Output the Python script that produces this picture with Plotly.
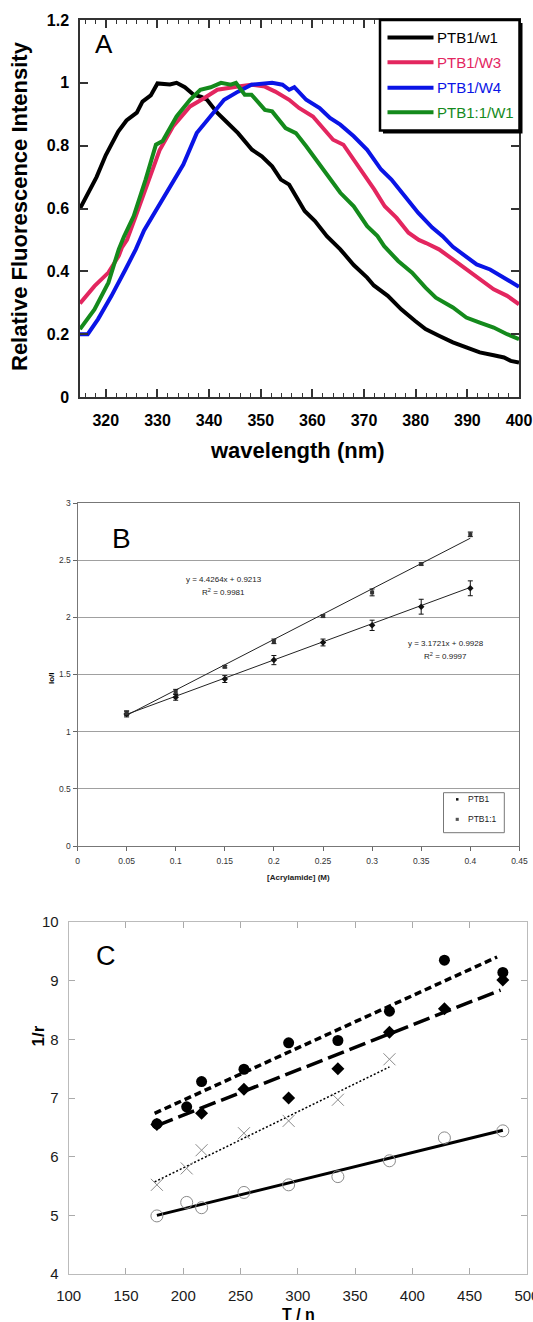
import plotly.graph_objects as go

W, H = 533, 1322
FONT = "Liberation Sans, Arial, sans-serif"

# ---------------- Panel A: emission spectra ----------------
a_w1_x = [315, 316.5, 318.2, 320, 321, 322.4, 324, 325.1, 326, 327.1, 328.7, 330, 331, 332.4, 333.7, 335.3,
          337, 338.5, 339.6, 341.6, 343.3, 345.6, 348.3, 350.2, 352.2, 353.9, 355.5, 356.8, 358.5, 360.5,
          362.8, 365.4, 368, 370.6, 371.9, 374.6, 377.2, 379.9, 381.9, 384.5, 387.2, 389.8, 392.4, 395.1,
          397.1, 398.4, 400]
a_w1_y = [0.60, 0.65, 0.70, 0.77, 0.80, 0.845, 0.88, 0.895, 0.905, 0.94, 0.96, 0.998, 0.998, 0.995, 1.0, 0.986,
          0.962, 0.955, 0.946, 0.904, 0.877, 0.84, 0.787, 0.766, 0.734, 0.692, 0.676, 0.639, 0.592, 0.56,
          0.512, 0.47, 0.42, 0.38, 0.355, 0.322, 0.279, 0.242, 0.216, 0.195, 0.174, 0.158, 0.142, 0.133,
          0.126, 0.115, 0.11]

a_w3_x = [315, 317.8, 320.5, 322.5, 323.1, 324.1, 325.8, 328.4, 330.4, 333, 336.3, 339, 341.6, 345.6, 348.2,
          350.8, 352.8, 355.5, 357.4, 360.1, 362.1, 364, 366, 368, 370, 372, 374, 376.3, 378.6, 380.6,
          382, 384.5, 387.2, 389.8, 392.4, 395.1, 397.7, 400]
a_w3_y = [0.298, 0.353, 0.396, 0.449, 0.475, 0.50, 0.576, 0.692, 0.785, 0.861, 0.925, 0.951, 0.978, 0.988, 0.994,
          0.988, 0.972, 0.946, 0.92, 0.893, 0.856, 0.819, 0.803, 0.756, 0.708, 0.66, 0.607, 0.57, 0.523, 0.50,
          0.49, 0.47, 0.438, 0.406, 0.375, 0.343, 0.322, 0.295]

a_w4_x = [315, 316.5, 318.5, 321.1, 323.8, 325.8, 327.4, 329.1, 332.4, 335, 337.6, 340.3, 342.9, 345.6, 348.2,
          352.2, 354.2, 355.5, 356.5, 358.8, 361.4, 363.4, 365.4, 368, 370.6, 373.3, 375.3, 377.9, 380.5,
          383.2, 385.2, 387.2, 389.1, 391.8, 394.4, 397.1, 398.4, 400]
a_w4_y = [0.20, 0.20, 0.248, 0.322, 0.406, 0.47, 0.53, 0.576, 0.671, 0.74, 0.84, 0.893, 0.946, 0.972, 0.994,
          1.0, 0.994, 0.978, 0.986, 0.946, 0.92, 0.888, 0.867, 0.83, 0.787, 0.724, 0.692, 0.639, 0.586,
          0.539, 0.512, 0.478, 0.454, 0.422, 0.406, 0.38, 0.364, 0.351]

a_11w1_x = [315, 317.8, 320.5, 322.5, 323.5, 325.4, 327.7, 329.7, 331, 333.7, 336.3, 338.3, 340.3, 342.3, 344.2,
            345.2, 346.9, 348.2, 350.8, 352.2, 354.8, 356.8, 358.8, 360.7, 362.7, 365.4, 368, 370.6, 372.6,
            373.9, 376.6, 379.3, 381.9, 383.9, 387.2, 389.8, 392.4, 395.1, 397.7, 400]
a_11w1_y = [0.216, 0.279, 0.364, 0.47, 0.51, 0.576, 0.692, 0.803, 0.815, 0.893, 0.946, 0.978, 0.986, 1.0, 0.994,
            1.0, 0.962, 0.962, 0.914, 0.909, 0.856, 0.84, 0.798, 0.756, 0.708, 0.65, 0.607, 0.544, 0.512,
            0.48, 0.433, 0.396, 0.348, 0.316, 0.285, 0.253, 0.237, 0.221, 0.20, 0.184]

a_names = ["PTB1/w1", "PTB1/W3", "PTB1/W4", "PTB1:1/W1"]
a_colors = ["#000000", "#e3265f", "#0a14e6", "#148a1c"]

# ---------------- Panel B: Stern-Volmer ----------------
b_conc = [0.05, 0.10, 0.15, 0.20, 0.25, 0.30, 0.35, 0.40]
b_ptb1 = [1.155, 1.30, 1.46, 1.626, 1.78, 1.93, 2.093, 2.254]
b_ptb1_err = [0.026, 0.025, 0.03, 0.04, 0.03, 0.045, 0.065, 0.065]
b_ptb11 = [1.16, 1.35, 1.568, 1.79, 2.011, 2.218, 2.466, 2.726]
b_ptb11_err = [0.02, 0.02, 0.01, 0.02, 0.01, 0.03, 0.01, 0.02]
b_fit_slope = [3.1721, 4.4264]
b_fit_intercept = [0.9928, 0.9213]
b_eq_text = ["y = 3.1721x + 0.9928", "y = 4.4264x + 0.9213"]
b_r2_text = ["R<sup>2</sup> = 0.9997", "R<sup>2</sup> = 0.9981"]

# ---------------- Panel C: Perrin plot ----------------
c_fill_x = [177, 203, 216, 253, 292, 335, 380, 428, 479]
c_fill_y = [6.56, 6.85, 7.28, 7.49, 7.94, 7.98, 8.48, 9.35, 9.14]
c_diam_x = [177, 216, 253, 292, 335, 380, 428, 479]
c_diam_y = [6.55, 6.74, 7.15, 7.0, 7.5, 8.12, 8.52, 9.01]
c_cross_x = [177, 203, 216, 253, 292, 335, 380]
c_cross_y = [5.52, 5.80, 6.11, 6.40, 6.61, 6.97, 7.66]
c_open_x = [177, 203, 216, 253, 292, 335, 380, 428, 479]
c_open_y = [4.99, 5.22, 5.13, 5.39, 5.52, 5.66, 5.93, 6.32, 6.44]
# linear fits: slope, intercept, x start, x end
c_fit_slope = [0.00891, 0.00770, 0.00956, 0.00480]
c_fit_intercept = [5.180, 5.167, 3.897, 4.150]
c_fit_xstart = [175, 177, 175, 177]
c_fit_xend = [474, 477, 380, 479]


def PX(x):
    return x / W


def PY(y):
    return 1 - y / H


fig = go.Figure()

# Panel A traces
for xs, ys, col, nm in zip([a_w1_x, a_w3_x, a_w4_x, a_11w1_x], [a_w1_y, a_w3_y, a_w4_y, a_11w1_y], a_colors, a_names):
    fig.add_trace(go.Scatter(x=xs, y=ys, mode="lines", name=nm, line=dict(color=col, width=4),
                             xaxis="x", yaxis="y", showlegend=False))

# Panel B trendlines
for s, c in zip(b_fit_slope, b_fit_intercept):
    xs = [b_conc[0], b_conc[-1]]
    fig.add_trace(go.Scatter(x=xs, y=[s * v + c for v in xs], mode="lines", line=dict(color="#222", width=1),
                             xaxis="x2", yaxis="y2", showlegend=False, hoverinfo="skip"))
fig.add_trace(go.Scatter(x=b_conc, y=b_ptb1, mode="markers", name="PTB1",
                         marker=dict(symbol="diamond", size=5, color="#111"),
                         error_y=dict(type="data", array=b_ptb1_err, color="#111", thickness=1, width=2.5),
                         xaxis="x2", yaxis="y2", showlegend=False))
fig.add_trace(go.Scatter(x=b_conc, y=b_ptb11, mode="markers", name="PTB1:1",
                         marker=dict(symbol="square", size=4, color="#333"),
                         error_y=dict(type="data", array=b_ptb11_err, color="#111", thickness=1, width=2.5),
                         xaxis="x2", yaxis="y2", showlegend=False))

# Panel C fit lines
c_dashes = ["7px,4px", "17px,6px", "2px,2px", "solid"]
c_widths = [3.5, 3.5, 1.5, 3]
for s, c, x0, x1, d, w in zip(c_fit_slope, c_fit_intercept, c_fit_xstart, c_fit_xend, c_dashes, c_widths):
    fig.add_trace(go.Scatter(x=[x0, x1], y=[s * x0 + c, s * x1 + c], mode="lines",
                             line=dict(color="black", width=w, dash=d),
                             xaxis="x3", yaxis="y3", showlegend=False, hoverinfo="skip"))
fig.add_trace(go.Scatter(x=c_open_x, y=c_open_y, mode="markers",
                         marker=dict(symbol="circle-open", size=12, color="#8a8a8a", line=dict(width=1)),
                         xaxis="x3", yaxis="y3", showlegend=False))
fig.add_trace(go.Scatter(x=c_cross_x, y=c_cross_y, mode="markers",
                         marker=dict(symbol="x-thin", size=12, color="#8a8a8a", line=dict(width=1, color="#8a8a8a")),
                         xaxis="x3", yaxis="y3", showlegend=False))
fig.add_trace(go.Scatter(x=c_diam_x, y=c_diam_y, mode="markers",
                         marker=dict(symbol="diamond", size=10, color="black"),
                         xaxis="x3", yaxis="y3", showlegend=False))
fig.add_trace(go.Scatter(x=c_fill_x, y=c_fill_y, mode="markers",
                         marker=dict(symbol="circle", size=11, color="black"),
                         xaxis="x3", yaxis="y3", showlegend=False))

axA = dict(showgrid=False, zeroline=False, showline=True, linecolor="#333", linewidth=1.5,
           mirror="ticks", ticks="inside", ticklen=8, tickwidth=1.5, tickcolor="#333", automargin=False,
           tickfont=dict(family=FONT, size=16, color="black", weight="bold"))
axB = dict(showgrid=False, zeroline=False, showline=True, linecolor="#777", linewidth=1,
           mirror=True, ticks="outside", ticklen=4, tickwidth=1, tickcolor="#666", automargin=False,
           tickfont=dict(family=FONT, size=8.5, color="#333"))
axC = dict(showgrid=False, zeroline=False, showline=True, linecolor="#bbbbbb", linewidth=1,
           mirror="ticks", ticks="inside", ticklen=6, tickwidth=1, tickcolor="#aaaaaa", automargin=False,
           tickfont=dict(family=FONT, size=15, color="#1a1a1a"))

fig.update_layout(
    width=W, height=H, margin=dict(l=0, r=0, t=0, b=0, pad=0),
    paper_bgcolor="white", plot_bgcolor="white", template="none", showlegend=False,
    xaxis=dict(axA, domain=[PX(80), PX(519)], range=[315, 400], tick0=320, dtick=10, anchor="y",
               ticklabelstandoff=8, ticklabeloverflow="allow",
               minor=dict(dtick=2, tick0=316, ticks="inside", ticklen=4, tickwidth=1.2, tickcolor="#333")),
    yaxis=dict(axA, domain=[PY(397), PY(20)], range=[0, 1.2], dtick=0.2, anchor="x", ticklabelstandoff=6),
    xaxis2=dict(axB, domain=[PX(77.5), PX(519.4)], range=[0, 0.45], dtick=0.05, anchor="y2",
                ticklabelstandoff=3, ticklabeloverflow="allow"),
    yaxis2=dict(axB, domain=[PY(846), PY(503)], range=[0, 3], dtick=0.5, anchor="x2",
                showgrid=True, gridcolor="#a0a0a0", gridwidth=1),
    xaxis3=dict(axC, domain=[PX(68.7), PX(526.9)], range=[100, 500], dtick=50, anchor="y3",
                ticklabelstandoff=8, ticklabeloverflow="allow"),
    yaxis3=dict(axC, domain=[PY(1274), PY(922)], range=[4, 10], dtick=1, anchor="x3",
                ticklabelstandoff=6),
)

ann = []


def text(x, y, t, size, color="black", bold=False, angle=0, xanchor="center", family=FONT):
    ann.append(dict(x=PX(x), y=PY(y), xref="paper", yref="paper", text=t, showarrow=False,
                    xanchor=xanchor, yanchor="middle", textangle=angle,
                    font=dict(family=family, size=size, color=color, weight="bold" if bold else "normal")))


# Panel A texts
text(104, 44, "A", 26)
text(20, 206, "Relative Fluorescence Intensity", 22, bold=True, angle=-90)
text(297, 450, "wavelength (nm)", 22, bold=True)

shapes = []
# Panel A legend box with shadow
shapes.append(dict(type="rect", xref="paper", yref="paper", x0=PX(383), x1=PX(522.5), y0=PY(133.5), y1=PY(23),
                   fillcolor="black", line=dict(width=0), layer="above"))
shapes.append(dict(type="rect", xref="paper", yref="paper", x0=PX(380), x1=PX(519.5), y0=PY(130.5), y1=PY(20),
                   fillcolor="white", line=dict(color="black", width=2.5), layer="above"))
leg_y = [37.4, 62.2, 87.7, 112.2]
for yy, col, nm in zip(leg_y, a_colors, a_names):
    shapes.append(dict(type="line", xref="paper", yref="paper", x0=PX(387.5), x1=PX(433.5), y0=PY(yy), y1=PY(yy),
                       line=dict(color=col, width=4), layer="above"))
    text(435, yy, nm, 15, color=col, xanchor="left")

# Panel B texts
text(121.5, 538, "B", 28)
text(51, 678, "Io/I", 8, bold=True, angle=-90)
text(298, 877, "[Acrylamide] (M)", 8, color="#222", bold=True)
text(223.5, 579, b_eq_text[1], 8, color="#222")
text(223.5, 592, b_r2_text[1], 8, color="#222")
text(445.5, 643, b_eq_text[0], 8, color="#222")
text(445.5, 656, b_r2_text[0], 8, color="#222")
# Panel B legend
shapes.append(dict(type="rect", xref="paper", yref="paper", x0=PX(443.5), x1=PX(504.3), y0=PY(832.7), y1=PY(792.7),
                   fillcolor="white", line=dict(color="#777", width=1), layer="above"))
shapes.append(dict(type="rect", xref="paper", yref="paper", x0=PX(456), x1=PX(458.5), y0=PY(800.6), y1=PY(798.1),
                   fillcolor="#111", line=dict(width=0), layer="above"))
shapes.append(dict(type="rect", xref="paper", yref="paper", x0=PX(455.7), x1=PX(458.8), y0=PY(820.9), y1=PY(817.8),
                   fillcolor="#555", line=dict(width=0), layer="above"))
text(466, 799.3, "PTB1", 8.5, color="#222", xanchor="left")
text(466, 819.3, "PTB1:1", 8.5, color="#222", xanchor="left")

# Panel C texts
text(106, 956, "C", 27)
text(37.5, 1036, "1/r", 17, bold=True, angle=-90)
text(298, 1314, "T / n", 16, bold=True)

fig.update_layout(annotations=ann, shapes=shapes)
fig.write_html("out.html")
